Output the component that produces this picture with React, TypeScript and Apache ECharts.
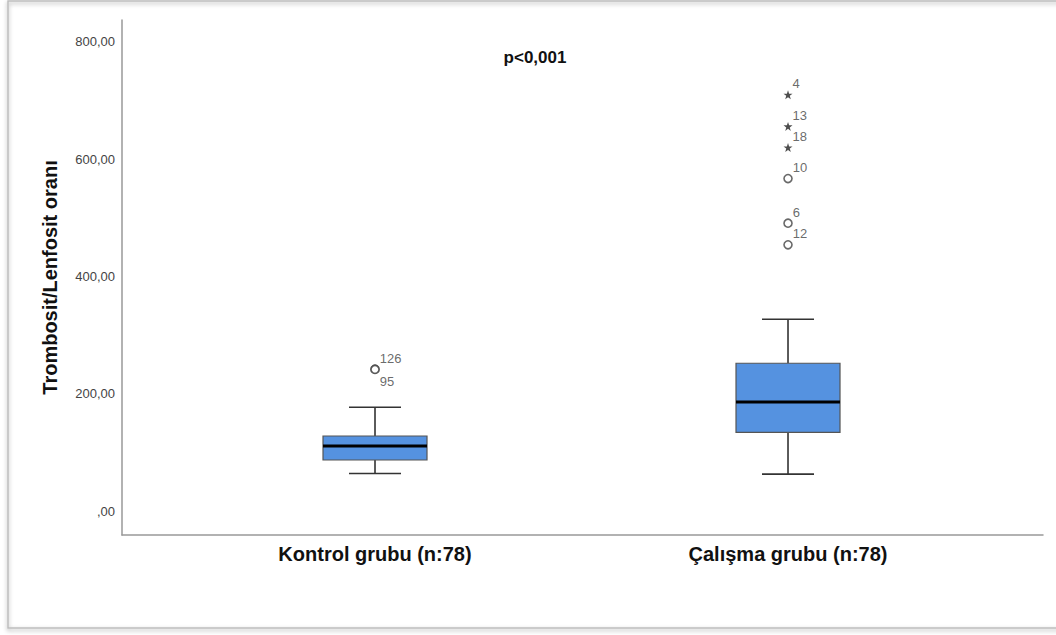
import React, { useEffect, useRef } from "react";
import * as echarts from "echarts";

const categories = ["Kontrol grubu (n:78)", "Çalışma grubu (n:78)"];
const categoryPos = [1, 2];
// [min whisker, Q1, median, Q3, max whisker]
const boxStats = [
  [64, 87, 111, 128, 177],
  [63, 134, 186, 252, 327],
];
// outliers: [group position, value, case id]
const circleOutliers = [
  [1, 242, "126"],
  [2, 567, "10"],
  [2, 491, "6"],
  [2, 454, "12"],
];
const circleOutliersBelowLabel = [[1, 241.5, "95"]];
const starOutliers = [
  [2, 710, "4"],
  [2, 656, "13"],
  [2, 620, "18"],
];
const yTicks = [0, 200, 400, 600, 800];
const yTitle = "Trombosit/Lenfosit oranı";
const pText = "p<0,001";

const STAR =
  "path://M50,0 L61.8,35.1 L97.6,35.1 L68.8,56.8 L79.4,91.9 L50,70.3 L20.6,91.9 L31.2,56.8 L2.4,35.1 L38.2,35.1 Z";

export default function App() {
  const ref = useRef<HTMLDivElement>(null);
  useEffect(() => {
    if (!ref.current) return;
    const chart = echarts.init(ref.current, undefined, { renderer: "svg" });
    const font = "'Liberation Sans', Arial, sans-serif";
    const boxData = boxStats.map((s, i) => [categoryPos[i], ...s]);
    const labelStyle = {
      show: true,
      position: "right",
      distance: 1,
      offset: [-1, -11],
      fontFamily: font,
      fontSize: 13,
      color: "#444",
      formatter: (p: any) => p.value[2],
    };
    chart.setOption({
      animation: false,
      backgroundColor: "#ffffff",
      grid: { left: 122, top: 20, width: 921, height: 515, containLabel: false },
      xAxis: {
        type: "value",
        min: 0.38741,
        max: 2.6174,
        splitLine: { show: false },
        axisTick: { show: false },
        axisLine: { show: true, onZero: false, lineStyle: { color: "#999", width: 1.5 } },
        axisLabel: {
          customValues: categoryPos,
          formatter: (v: number) => categories[categoryPos.indexOf(v)] ?? "",
          fontFamily: font,
          fontWeight: "bold",
          fontSize: 20,
          color: "#111",
          margin: 9,
        },
      },
      yAxis: {
        type: "value",
        min: -40.9,
        max: 837.5,
        splitLine: { show: false },
        axisTick: { show: false },
        axisLine: { show: true, onZero: false, lineStyle: { color: "#999", width: 1.5 } },
        axisLabel: {
          customValues: yTicks,
          formatter: (v: number) => (v === 0 ? ",00" : v.toFixed(2).replace(".", ",")),
          fontFamily: font,
          fontSize: 13,
          color: "#444",
          margin: 7,
        },
        name: yTitle,
        nameLocation: "middle",
        nameGap: 62,
        nameTextStyle: { fontFamily: font, fontWeight: "bold", fontSize: 20, color: "#111" },
      },
      series: [
        {
          type: "custom",
          data: boxData,
          encode: { x: 0, y: [1, 2, 3, 4, 5] },
          renderItem: (params: any, api: any) => {
            const x = api.value(0);
            const pMin = api.coord([x, api.value(1)]);
            const pQ1 = api.coord([x, api.value(2)]);
            const pMed = api.coord([x, api.value(3)]);
            const pQ3 = api.coord([x, api.value(4)]);
            const pMax = api.coord([x, api.value(5)]);
            const cx = pMin[0];
            const half = 52;
            const cap = 26;
            const ws = { stroke: "#333", lineWidth: 1.6 };
            return {
              type: "group",
              children: [
                { type: "line", shape: { x1: cx, y1: pMax[1], x2: cx, y2: pQ3[1] }, style: ws },
                { type: "line", shape: { x1: cx, y1: pQ1[1], x2: cx, y2: pMin[1] }, style: ws },
                { type: "line", shape: { x1: cx - cap, y1: pMax[1], x2: cx + cap, y2: pMax[1] }, style: ws },
                { type: "line", shape: { x1: cx - cap, y1: pMin[1], x2: cx + cap, y2: pMin[1] }, style: ws },
                {
                  type: "rect",
                  shape: { x: cx - half, y: pQ3[1], width: half * 2, height: pQ1[1] - pQ3[1] },
                  style: { fill: "#5592e0", stroke: "#555", lineWidth: 1.2 },
                },
                {
                  type: "line",
                  shape: { x1: cx - half, y1: pMed[1], x2: cx + half, y2: pMed[1] },
                  style: { stroke: "#000", lineWidth: 3 },
                },
              ],
            };
          },
          z: 2,
        },
        {
          type: "scatter",
          data: circleOutliers,
          symbol: "circle",
          symbolSize: 8,
          itemStyle: { color: "#fff", borderColor: "#444", borderWidth: 1.6 },
          label: labelStyle,
          z: 3,
        },
        {
          type: "scatter",
          data: circleOutliersBelowLabel,
          symbol: "circle",
          symbolSize: 8,
          itemStyle: { color: "#fff", borderColor: "#444", borderWidth: 1.6 },
          label: { ...labelStyle, offset: [-1, 12] },
          z: 3,
        },
        {
          type: "scatter",
          data: starOutliers,
          symbol: STAR,
          symbolSize: 9,
          itemStyle: { color: "#222" },
          label: labelStyle,
          z: 3,
        },
      ],
      graphic: [
        {
          type: "rect",
          shape: { x: 8, y: 1, width: 1070, height: 627 },
          style: {
            fill: "none",
            stroke: "#bdbdbd",
            lineWidth: 1.5,
            shadowBlur: 4,
            shadowColor: "rgba(0,0,0,0.35)",
            shadowOffsetY: 2,
          },
          silent: true,
        },
        {
          type: "text",
          x: 535,
          y: 57,
          style: {
            text: pText,
            fontFamily: font,
            fontWeight: "bold",
            fontSize: 17,
            fill: "#111",
            align: "center",
            verticalAlign: "middle",
          },
        },
      ],
    });
    return () => chart.dispose();
  }, []);
  return (
    <div
      ref={ref}
      style={{ position: "absolute", left: 0, top: 0, width: 1056, height: 635 }}
    />
  );
}
